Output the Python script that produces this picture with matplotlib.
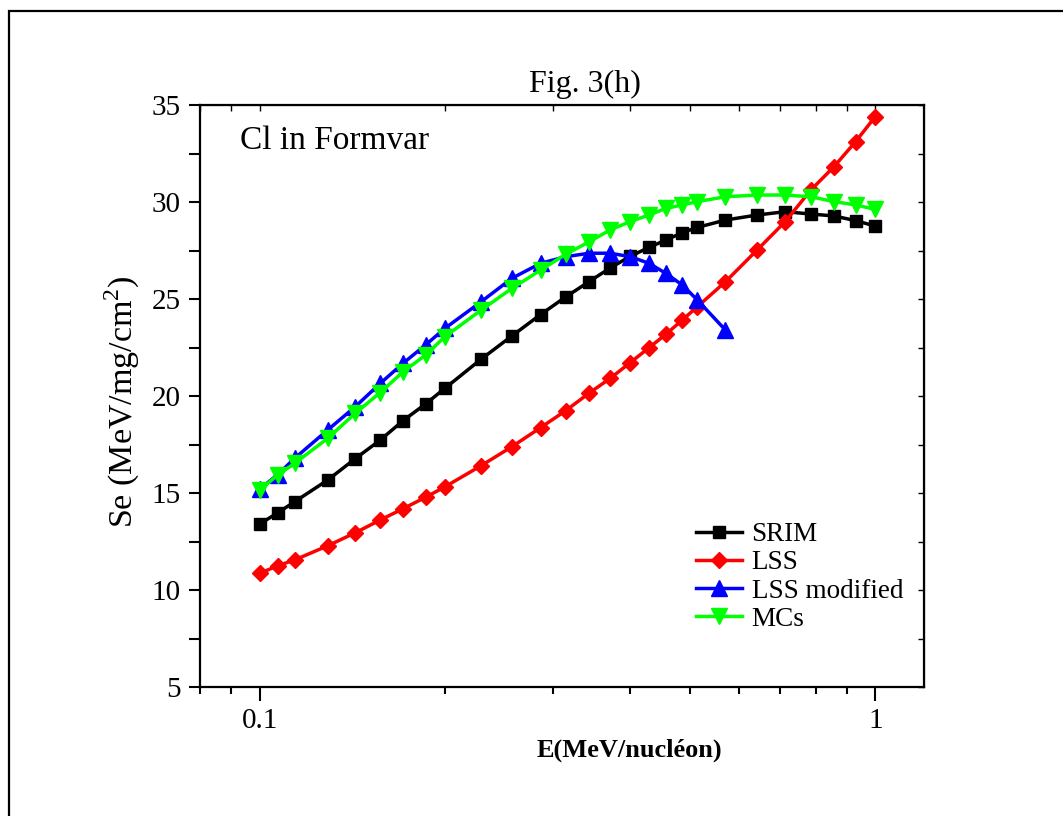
import matplotlib
matplotlib.use("Agg")
import matplotlib.pyplot as plt
from matplotlib.patches import Rectangle
from matplotlib.ticker import FixedLocator, NullFormatter

# ---- data ----
energy = [0.1, 0.107, 0.114, 0.129, 0.143, 0.157, 0.171, 0.186, 0.2, 0.229,
          0.257, 0.286, 0.314, 0.343, 0.371, 0.4, 0.429, 0.457, 0.486, 0.514,
          0.571, 0.643, 0.714, 0.786, 0.857, 0.929, 1.0]
srim = [13.40, 13.98, 14.55, 15.67, 16.77, 17.73, 18.73, 19.59, 20.40, 21.90,
        23.10, 24.20, 25.10, 25.90, 26.60, 27.20, 27.66, 28.04, 28.42, 28.69,
        29.07, 29.33, 29.50, 29.38, 29.28, 29.04, 28.76]
lss = [10.86, 11.25, 11.55, 12.28, 12.95, 13.61, 14.19, 14.78, 15.32, 16.41,
       17.39, 18.37, 19.24, 20.15, 20.91, 21.72, 22.49, 23.18, 23.92, 24.60,
       25.89, 27.53, 28.99, 30.62, 31.82, 33.11, 34.40]
energy_mod = energy[:21]
lss_mod = [15.20, 15.95, 16.79, 18.25, 19.45, 20.65, 21.69, 22.63, 23.49, 24.86,
           26.07, 26.84, 27.18, 27.36, 27.36, 27.18, 26.84, 26.32, 25.72, 24.95,
           23.40]
mcs = [15.15, 15.93, 16.53, 17.82, 19.11, 20.18, 21.25, 22.11, 23.06, 24.43,
       25.55, 26.49, 27.30, 27.95, 28.56, 28.99, 29.33, 29.67, 29.85, 30.02,
       30.27, 30.36, 30.36, 30.27, 30.02, 29.85, 29.62]

series_labels = ["SRIM", "LSS", "LSS modified", "MCs"]
x_major = [0.1, 1.0]
x_major_labels = ["0.1", "1"]
x_minor = [0.08, 0.09, 0.2, 0.3, 0.4, 0.5, 0.6, 0.7, 0.8, 0.9]
y_ticks = [5, 10, 15, 20, 25, 30, 35]
y_minor = [7.5, 12.5, 17.5, 22.5, 27.5, 32.5]

plt.rcParams['font.family'] = ['Liberation Serif', 'DejaVu Serif']
plt.rcParams['mathtext.fontset'] = 'custom'
plt.rcParams['mathtext.rm'] = 'Liberation Serif'

W, H = 1063, 816
fig = plt.figure(figsize=(W / 100, H / 100), dpi=100)
L, R, T, B = 200, 924, 105, 687
ax = fig.add_axes([L / W, 1 - B / H, (R - L) / W, (B - T) / H])

lw = 2.5
ax.plot(energy, srim, color='black', lw=lw, marker='s', ms=8.5, label=series_labels[0])
ax.plot(energy, lss, color='#ff0000', lw=lw, marker='D', ms=8, label=series_labels[1])
ax.plot(energy_mod, lss_mod, color='#0000ff', lw=lw, marker='^', ms=11, label=series_labels[2])
ax.plot(energy, mcs, color='#00ff00', lw=lw, marker='v', ms=11, label=series_labels[3])

ax.set_xscale('log')
ax.set_xlim(0.08, 1.2)
ax.set_ylim(5, 35)
ax.xaxis.set_major_locator(FixedLocator(x_major))
ax.set_xticklabels(x_major_labels)
ax.xaxis.set_minor_locator(FixedLocator(x_minor))
ax.xaxis.set_minor_formatter(NullFormatter())
ax.set_yticks(y_ticks)
ax.yaxis.set_minor_locator(FixedLocator(y_minor))

ax.tick_params(axis='x', which='major', direction='out', length=10, width=1.5,
               labelsize=21, pad=5)
ax.tick_params(axis='x', which='minor', direction='out', length=5, width=1.5)
ax.tick_params(axis='y', which='both', direction='out', length=8, width=1.5,
               labelsize=21, pad=6)
for s in ax.spines.values():
    s.set_linewidth(1.6)

# inward ticks on top and right
secx = ax.secondary_xaxis('top')
secx.set_xticks(x_major + x_minor)
secx.set_xticklabels([])
secx.xaxis.set_minor_locator(FixedLocator([]))
secx.tick_params(which='both', direction='in', length=4, width=1)
secy = ax.secondary_yaxis('right')
secy.set_yticks(y_ticks + y_minor)
secy.set_yticklabels([])
secy.tick_params(which='both', direction='in', length=4, width=1)

ax.text((240 - L) / (R - L), (B - 149) / (B - T), "Cl in Formvar",
        transform=ax.transAxes, fontsize=24, va='baseline', ha='left')

fig.text(585 / W, 1 - 92 / H, "Fig. 3(h)", fontsize=23, ha='center', va='baseline')
fig.text(629.5 / W, 1 - 757 / H, "E(MeV/nucléon)", fontsize=19, fontweight='bold',
         ha='center', va='baseline')
fig.text(122 / W, 1 - 402 / H, "Se (MeV/mg/cm$^2$)", fontsize=24.5, rotation=90,
         ha='center', va='center')

leg = ax.legend(loc='upper left', bbox_to_anchor=(696 / W, 1 - 522 / H),
                bbox_transform=fig.transFigure, frameon=False, fontsize=19.5,
                handlelength=1.7, handletextpad=0.35, labelspacing=0.12,
                borderpad=0, borderaxespad=0, numpoints=1)

fig.add_artist(Rectangle((9 / W, -0.1), 1.2, 1 - 11 / H + 0.1, transform=fig.transFigure,
                         fill=False, edgecolor='black', lw=1.6, clip_on=False))

fig.savefig("out.png", dpi=100)
